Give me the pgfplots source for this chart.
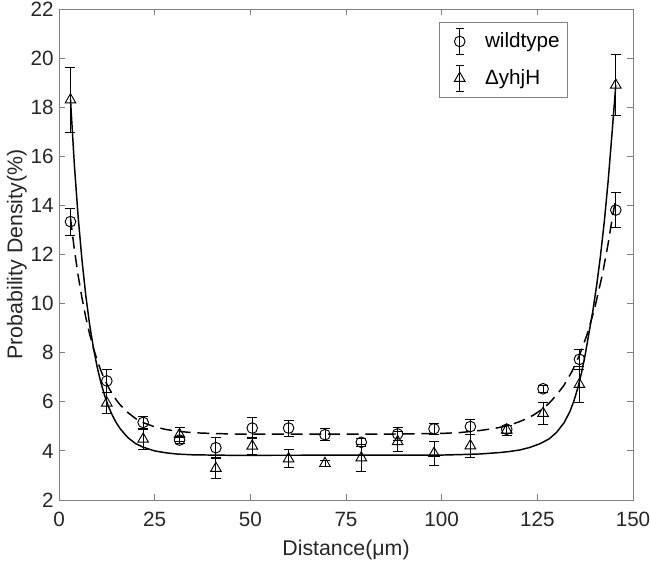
\documentclass[border=0pt]{standalone}
\usepackage{fontspec}
\setmainfont{Liberation Sans}
\usepackage{pgfplots}
\pgfplotsset{compat=1.18}
\usepackage{pgfplotstable}

\definecolor{axgray}{RGB}{128,128,128}
\definecolor{txt}{RGB}{38,38,38}

\pgfplotstableread{
x y e
3 13.34 0.55
12.5 6.85 0.45
22 5.16 0.25
31.5 4.44 0.15
41 4.13 0.40
50.5 4.93 0.43
60 4.93 0.33
69.5 4.66 0.25
79 4.35 0.15
88.5 4.69 0.25
98 4.90 0.22
107.5 4.99 0.30
117 4.88 0.15
126.5 6.53 0.15
136 7.73 0.40
145.5 13.81 0.72
}\wild

\pgfplotstableread{
x y e
3 18.30 1.34
12.5 5.95 0.42
22 4.48 0.40
31.5 4.67 0.28
41 3.29 0.42
50.5 4.20 0.35
60 3.68 0.37
69.5 3.49 0.12
79 3.72 0.55
88.5 4.38 0.42
98 3.90 0.50
107.5 4.21 0.48
117 4.85 0.20
126.5 5.53 0.45
136 6.71 0.75
145.5 18.90 1.25
}\mutant

\pgfplotstableread{
x y
3 13.48
4 12.22
5 11.15
6 10.23
7 9.44
8 8.76
9 8.18
10 7.68
11 7.25
12 6.88
13 6.57
14 6.30
15 6.07
16 5.87
18 5.56
20 5.32
22 5.15
25 4.98
28 4.87
31 4.80
35 4.74
40 4.71
45 4.69
50 4.68
80 4.68
90 4.69
100 4.71
105 4.75
110 4.83
114 4.92
117 5.02
120 5.17
122 5.30
124 5.46
126 5.67
128 5.93
130 6.27
132 6.68
134 7.22
136 7.89
138 8.74
140 9.82
142 11.18
143.5 12.44
144.5 13.41
145.5 14.30
}\wildfit

\pgfplotstableread{
x y
3 18.32
4 15.69
5 13.54
6 11.78
7 10.33
8 9.15
9 8.19
10 7.40
11 6.75
12 6.22
13 5.78
14 5.43
15 5.14
16 4.90
18 4.54
20 4.30
22 4.15
25 4.00
28 3.92
31 3.87
35 3.84
40 3.83
45 3.82
100 3.83
105 3.85
110 3.875
115 3.93
117.5 3.97
120.5 4.04
123 4.14
125.5 4.28
128 4.48
130 4.75
132 5.15
133.5 5.60
134.5 6.01
135.5 6.52
136.5 7.15
137.5 7.91
138.5 8.81
139.5 9.69
140.5 10.74
141.5 11.94
142.5 13.34
143.5 14.98
144.5 16.90
145.5 18.90
}\mutfit

\begin{document}
\begin{tikzpicture}
\begin{axis}[
  scale only axis,
  width=430.5pt, height=368.25pt,
  xmin=0, xmax=150, ymin=2, ymax=22,
  xtick={0,25,50,75,100,125,150},
  ytick={2,4,6,8,10,12,14,16,18,20,22},
  tick align=inside,
  major tick length=4.5pt,
  axis line style={axgray, line width=0.6pt},
  every tick/.style={axgray, line width=0.6pt},
  font=\fontsize{16}{19}\selectfont,
  ticklabel style={font=\fontsize{15.5}{18}\selectfont, text=txt},
  xticklabel style={anchor=base, yshift=-20pt},
  yticklabel style={anchor=east, xshift=-0.5pt},
  /pgf/number format/assume math mode=true,
  xlabel={Distance(μm)},
  ylabel={Probability Density(\%)},
  label style={text=txt, font=\fontsize{16}{19}\selectfont},
  xlabel style={at={([yshift=-41.5pt]axis description cs:0.5,0)}, anchor=base},
  ylabel style={at={([xshift=-27.5pt]axis description cs:0,0.5)}, anchor=base},
  legend style={at={(0.887,0.9735)}, anchor=north east, draw=axgray, line width=0.6pt,
    font=\fontsize{15.5}{18}\selectfont, text=black, inner xsep=4pt, inner ysep=4pt,
    row sep=7pt, cells={anchor=west}},
  legend image code/.code={
    \path[draw=none, fill=none] (0pt,0pt) rectangle (28pt,0.1pt);
    \draw[black, line width=0.6pt] (11pt,-10pt) -- (11pt,10pt)
      (8pt,10pt) -- (14pt,10pt) (8pt,-10pt) -- (14pt,-10pt);
    \draw[mark repeat=2,mark phase=2,#1] plot coordinates {(0pt,0pt) (11pt,0pt) (22pt,0pt)};
  },
]
\addplot[only marks, black, mark=o, mark size=4pt, mark options={line width=0.7pt},
  error bars/.cd, y dir=both, y explicit,
  error bar style={black, line width=0.6pt},
  error mark options={rotate=90, mark size=3.75pt, black, line width=0.6pt}]
  table[x=x, y=y, y error=e] {\wild};
\addlegendentry{wildtype}
\addplot[only marks, black, mark=triangle, mark size=4.6pt, mark options={line width=0.7pt},
  error bars/.cd, y dir=both, y explicit,
  error bar style={black, line width=0.6pt},
  error mark options={rotate=90, mark size=3.75pt, black, line width=0.6pt}]
  table[x=x, y=y, y error=e] {\mutant};
\addlegendentry{ΔyhjH}
\addplot[black, line width=1.1pt, dash pattern=on 9pt off 5pt, forget plot] table[x=x,y=y] {\wildfit};
\addplot[black, line width=1.1pt, forget plot] table[x=x,y=y] {\mutfit};
\end{axis}
\pgfresetboundingbox
\path[use as bounding box] ([xshift=-44.25pt,yshift=-47.25pt]current axis.south west) rectangle ([xshift=12.75pt,yshift=6.75pt]current axis.north east);
\end{tikzpicture}
\end{document}
